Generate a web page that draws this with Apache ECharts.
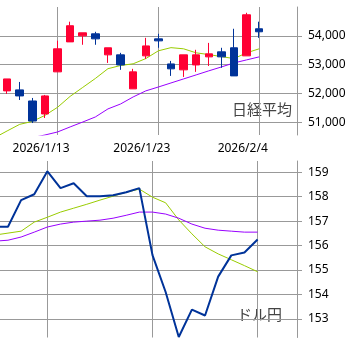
<!DOCTYPE html>
<html>
<head>
<meta charset="utf-8">
<script src="https://cdn.jsdelivr.net/npm/echarts@6/dist/echarts.min.js"></script>
<style>
html, body { margin: 0; padding: 0; background: #fff; }
#main { width: 352px; height: 362px; }
</style>
</head>
<body>
<div id="main"></div>
<script>
// 営業日
var dates = ['2026/1/5', '2026/1/6', '2026/1/7', '2026/1/8', '2026/1/9', '2026/1/13', '2026/1/14',
  '2026/1/15', '2026/1/16', '2026/1/19', '2026/1/20', '2026/1/21', '2026/1/22', '2026/1/23',
  '2026/1/26', '2026/1/27', '2026/1/28', '2026/1/29', '2026/1/30', '2026/2/2', '2026/2/3',
  '2026/2/4', '2026/2/5', '2026/2/6', '2026/2/9'];

// 日経平均 四本値
var nikkeiOpen = [null, 52090, 52125, 51740, 51290, 52750, 53790, 54000, 54070, 53340, 53340, 52160, 53305, 53895, 53025, 52820, 52990, 53270, 53445, 53585, 53305, 54245, null, null, null];
var nikkeiClose = [null, 52505, 51915, 51045, 51915, 53550, 54350, 54105, 53895, 53585, 52990, 52750, 53650, 53825, 52855, 53340, 53340, 53375, 53270, 52610, 54730, 54140, null, null, null];
var nikkeiLow = [null, 51985, 51775, 50975, 51150, 52750, 53790, 53690, 53690, 53060, 52820, 52160, 53200, 53585, 52610, 52575, 52750, 52955, 52890, 52610, 53305, 53930, null, null, null];
var nikkeiHigh = [null, 52505, 52400, 51845, 51950, 53830, 54490, 54105, 54140, 53585, 53410, 52855, 53930, 54070, 53130, 53340, 53515, 53755, 53585, 54245, 54800, 54490, null, null, null];
// 移動平均
var nikkeiMaShort = [50465, 50700, 50930, 51030, 51240, 51520, 51900, 52210, 52520, 52860, 52970, 53030, 53210, 53480, 53590, 53550, 53410, 53350, 53280, 53210, 53410, 53550, null, null, null];
var nikkeiMaLong = [null, null, null, 50470, 50560, 50665, 50840, 51010, 51185, 51465, 51635, 51880, 52090, 52225, 52365, 52505, 52645, 52785, 52920, 53060, 53165, 53270, null, null, null];

// ドル円
var usdjpy = [null, 156.77, 156.77, 157.86, 158.10, 159.04, 158.35, 158.55, 158.02, 158.02, 158.06, 158.18, 158.35, 155.61, 154.10, 152.26, 153.38, 153.14, 154.73, 155.60, 155.72, 156.25, null, null, null];
var usdjpyMaShort = [null, 156.43, 156.51, 156.59, 156.96, 157.16, 157.37, 157.53, 157.69, 157.86, 158.02, 158.18, 158.31, 157.98, 157.75, 157.05, 156.48, 155.95, 155.66, 155.42, 155.18, 154.93, null, null, null];
var usdjpyMaLong = [null, 156.18, 156.22, 156.35, 156.55, 156.76, 156.88, 156.96, 157.00, 157.04, 157.12, 157.24, 157.37, 157.37, 157.29, 157.12, 156.88, 156.71, 156.63, 156.59, 156.55, 156.55, null, null, null];

// 目盛
var nikkeiTicks = [51000, 52000, 53000, 54000];
var usdjpyTicks = [153, 154, 155, 156, 157, 158, 159];

var candleData = dates.map(function (d, i) {
  if (nikkeiOpen[i] == null) return '-';
  return [nikkeiOpen[i], nikkeiClose[i], nikkeiLow[i], nikkeiHigh[i]];
});
function fill(arr) {
  return arr.map(function (v) { return v == null ? '-' : v; });
}

var gridColor = '#999';
var labelFont = 'Noto Sans';
// 8営業日ごとに線
function every8(idx) { return idx % 8 === 5; }

function xAxisOf(gridIndex, showLabel) {
  return {
    gridIndex: gridIndex,
    type: 'category',
    data: dates,
    boundaryGap: false,
    axisLine: { show: false },
    axisTick: { show: false },
    axisLabel: {
      show: showLabel,
      interval: every8,
      margin: 8,
      padding: [0, 33, 0, 0],
      fontSize: 12,
      fontFamily: labelFont,
      color: '#000'
    },
    splitLine: { show: true, interval: every8, lineStyle: { color: gridColor, width: 1 } }
  };
}

function yAxisOf(gridIndex, min, max, ticks, fmt) {
  return {
    gridIndex: gridIndex,
    type: 'value',
    position: 'right',
    min: min,
    max: max,
    axisLine: { show: true, lineStyle: { color: gridColor, width: 1 } },
    axisTick: { show: true, length: 5, customValues: ticks, lineStyle: { color: gridColor } },
    axisLabel: {
      margin: 11,
      fontSize: 12,
      fontFamily: labelFont,
      color: '#000',
      customValues: ticks,
      formatter: fmt
    },
    splitLine: { show: true, lineStyle: { color: gridColor, width: 1 } }
  };
}

var chart = echarts.init(document.getElementById('main'), null, { renderer: 'canvas' });
var option = {
  backgroundColor: '#ffffff',
  animation: false,
  grid: [
    { left: -5.5, right: 55, top: 7, height: 128, outerBoundsMode: 'none', containLabel: false },
    { left: -18.3, right: 55, top: 161, height: 176.5, outerBoundsMode: 'none', containLabel: false }
  ],
  xAxis: [xAxisOf(0, true), xAxisOf(1, false)],
  yAxis: [
    yAxisOf(0, 50560, 55000, nikkeiTicks, function (v) { return Math.round(v).toLocaleString('en-US'); }),
    yAxisOf(1, 152.24, 159.46, usdjpyTicks, function (v) { return String(Math.round(v)); })
  ],
  graphic: [
    { type: 'text', left: 232, top: 102, style: { text: '日経平均', fontSize: 15, fontFamily: 'Noto Sans CJK JP', fill: '#444' } },
    { type: 'text', left: 237, top: 307, style: { text: 'ドル円', fontSize: 15, fontFamily: 'Noto Sans CJK JP', fill: '#444' } }
  ],
  series: [
    {
      name: '移動平均短期',
      type: 'line',
      xAxisIndex: 0, yAxisIndex: 0,
      data: fill(nikkeiMaShort),
      symbol: 'none',
      lineStyle: { color: '#99CC00', width: 1 },
      itemStyle: { color: '#99CC00' },
      z: 2
    },
    {
      name: '移動平均長期',
      type: 'line',
      xAxisIndex: 0, yAxisIndex: 0,
      data: fill(nikkeiMaLong),
      symbol: 'none',
      lineStyle: { color: '#9900FF', width: 1 },
      itemStyle: { color: '#9900FF' },
      z: 2
    },
    {
      name: '日経平均',
      type: 'candlestick',
      xAxisIndex: 0, yAxisIndex: 0,
      data: candleData,
      barWidth: 8,
      itemStyle: {
        color: '#FF0033', color0: '#003399',
        borderColor: '#FF0033', borderColor0: '#003399',
        borderWidth: 1
      },
      z: 3
    },
    {
      name: 'ドル円短期',
      type: 'line',
      xAxisIndex: 1, yAxisIndex: 1,
      data: fill(usdjpyMaShort),
      symbol: 'none',
      lineStyle: { color: '#99CC00', width: 1 },
      itemStyle: { color: '#99CC00' },
      z: 2
    },
    {
      name: 'ドル円長期',
      type: 'line',
      xAxisIndex: 1, yAxisIndex: 1,
      data: fill(usdjpyMaLong),
      symbol: 'none',
      lineStyle: { color: '#9900FF', width: 1 },
      itemStyle: { color: '#9900FF' },
      z: 2
    },
    {
      name: 'ドル円',
      type: 'line',
      xAxisIndex: 1, yAxisIndex: 1,
      data: fill(usdjpy),
      symbol: 'none',
      lineStyle: { color: '#003399', width: 2 },
      itemStyle: { color: '#003399' },
      z: 3
    }
  ]
};
chart.setOption(option);
</script>
</body>
</html>
